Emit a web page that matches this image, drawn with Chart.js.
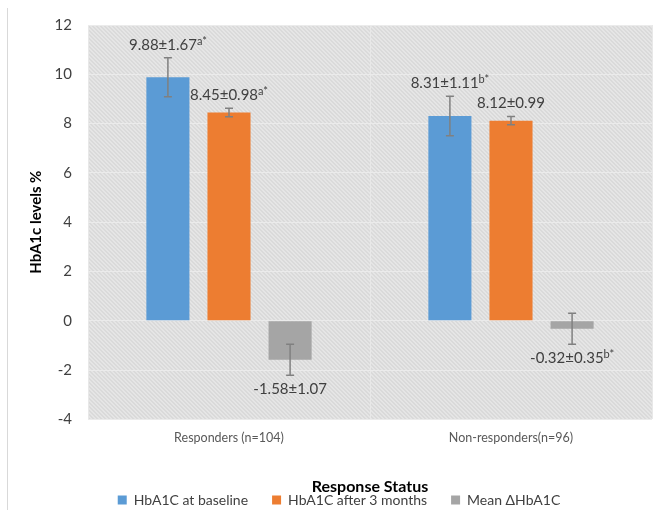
<!DOCTYPE html>
<html>
<head>
<meta charset="utf-8">
<script src="https://cdn.jsdelivr.net/npm/chart.js@4.4.1/dist/chart.umd.min.js"></script>
<style>
  html, body { margin: 0; padding: 0; background: #fff; }
  #wrap { width: 662px; height: 510px; position: relative; }
</style>
</head>
<body>
<div id="wrap"><canvas id="hba1c-chart" width="662" height="510"></canvas></div>
<script>
//data
const categories = ['Responders (n=104)', 'Non-responders(n=96)'];
const seriesNames = ['HbA1C at baseline', 'HbA1C after 3 months', 'Mean \u0394HbA1C'];
const baseline = [9.88, 8.31];
const afterThree = [8.45, 8.12];
const meanDelta = [-1.58, -0.32];
// error bar half lengths as drawn in the picture
const baselineErr = [0.79, 0.80];
const afterThreeErr = [0.17, 0.17];
const meanDeltaErr = [0.63, 0.63];
// value labels: main text + superscript
const baselineText = ['9.88\u00b11.67', '8.31\u00b11.11'];
const baselineSup = ['a*', 'b*'];
const afterThreeText = ['8.45\u00b10.98', '8.12\u00b10.99'];
const afterThreeSup = ['a*', ''];
const meanDeltaText = ['-1.58\u00b11.07', '-0.32\u00b10.35'];
const meanDeltaSup = ['', 'b*'];
const yMin = -4, yMax = 12, yStep = 2;

const FONT = 'Lato, "Open Sans", sans-serif';

//hatched background for the plot area
const backgroundPlugin = {
    id: 'plotBackground',
    beforeDraw(chart) {
        const ctx = chart.ctx;
        const a = chart.chartArea;
        ctx.save();
        ctx.beginPath();
        ctx.rect(a.left, a.top, a.right - a.left, a.bottom - a.top);
        ctx.clip();
        ctx.fillStyle = '#d9d9d9';
        ctx.fillRect(a.left, a.top, a.right - a.left, a.bottom - a.top);
        ctx.strokeStyle = '#e8e8e8';
        ctx.lineWidth = 1.3;
        ctx.beginPath();
        const h = a.bottom - a.top;
        for (let x = a.left - h; x < a.right; x += 4) {
            ctx.moveTo(x, a.top);
            ctx.lineTo(x + h, a.bottom);
        }
        ctx.stroke();
        ctx.restore();

        // partial outer border on the left
        ctx.save();
        ctx.strokeStyle = '#d9d9d9';
        ctx.lineWidth = 1;
        ctx.beginPath();
        ctx.moveTo(7.5, 8);
        ctx.lineTo(7.5, chart.height);
        ctx.stroke();
        ctx.restore();
    }
};

//error bars and value labels
const errorsFor = [baselineErr, afterThreeErr, meanDeltaErr];
const textFor = [baselineText, afterThreeText, meanDeltaText];
const supFor = [baselineSup, afterThreeSup, meanDeltaSup];

const annotatePlugin = {
    id: 'errorLabels',
    afterDatasetsDraw(chart) {
        const ctx = chart.ctx;
        const y = chart.scales.y;
        ctx.save();
        chart.data.datasets.forEach((ds, di) => {
            const meta = chart.getDatasetMeta(di);
            meta.data.forEach((bar, i) => {
                const v = ds.data[i];
                const e = errorsFor[di][i];
                const top = y.getPixelForValue(v + e);
                const bottom = y.getPixelForValue(v - e);
                ctx.strokeStyle = '#808080';
                ctx.lineWidth = 1.5;
                ctx.beginPath();
                ctx.moveTo(bar.x, top);
                ctx.lineTo(bar.x, bottom);
                ctx.moveTo(bar.x - 4, top);
                ctx.lineTo(bar.x + 4, top);
                ctx.moveTo(bar.x - 4, bottom);
                ctx.lineTo(bar.x + 4, bottom);
                ctx.stroke();

                const main = textFor[di][i];
                const sup = supFor[di][i];
                ctx.font = '15px ' + FONT;
                const w1 = ctx.measureText(main).width;
                ctx.font = '11px ' + FONT;
                const w2 = sup ? ctx.measureText(sup).width : 0;
                const x0 = bar.x - (w1 + w2) / 2;
                let base;
                if (v >= 0) {
                    base = top - 8;
                } else {
                    base = bottom + 19;
                }
                ctx.fillStyle = '#404040';
                ctx.textBaseline = 'alphabetic';
                ctx.textAlign = 'left';
                ctx.font = '15px ' + FONT;
                ctx.fillText(main, x0, base);
                if (sup) {
                    ctx.font = '11px ' + FONT;
                    ctx.fillText(sup, x0 + w1, base - 5);
                }
            });
        });
        ctx.restore();
    }
};

const chartCanvas = document.getElementById('hba1c-chart');

let hba1cChart = new Chart(chartCanvas, {
    type: 'bar',
    data: {
        labels: categories,
        datasets: [{
            label: seriesNames[0],
            data: baseline,
            backgroundColor: '#5B9BD5',
        }, {
            label: seriesNames[1],
            data: afterThree,
            backgroundColor: '#ED7D31',
        }, {
            label: seriesNames[2],
            data: meanDelta,
            backgroundColor: '#A5A5A5',
        }]
    },
    options: {
        responsive: false,
        animation: false,
        categoryPercentage: 0.65,
        barPercentage: 0.705,
        layout: {
            padding: { left: 26, right: 10, top: 20, bottom: -7 }
        },
        scales: {
            x: {
                grid: {
                    color: '#e8e8e8',
                    drawTicks: false,
                    offset: true,
                },
                border: { display: false },
                ticks: {
                    color: '#595959',
                    font: { family: FONT, size: 12.5 },
                    padding: 11,
                },
                title: {
                    display: true,
                    text: 'Response Status',
                    color: '#000',
                    font: { family: FONT, size: 16, weight: 'bold' },
                    padding: { top: 21, bottom: -27.6 },
                },
            },
            y: {
                min: yMin,
                max: yMax,
                grid: {
                    color: '#ebebeb',
                    drawTicks: false,
                },
                border: { display: false },
                ticks: {
                    stepSize: yStep,
                    color: '#404040',
                    font: { family: FONT, size: 15 },
                    padding: 16,
                },
                title: {
                    display: true,
                    text: 'HbA1c levels %',
                    color: '#000',
                    font: { family: FONT, size: 15, weight: 'bold' },
                    padding: { top: 1, bottom: 0 },
                },
                afterFit(scale) {
                    scale.width = 62;
                },
            }
        },
        plugins: {
            legend: {
                position: 'bottom',
                labels: {
                    boxWidth: 9,
                    boxHeight: 9,
                    padding: 24,
                    color: '#404040',
                    font: { family: FONT, size: 14 },
                }
            },
            tooltip: { enabled: false },
        }
    },
    plugins: [backgroundPlugin, annotatePlugin],
});
</script>
</body>
</html>
